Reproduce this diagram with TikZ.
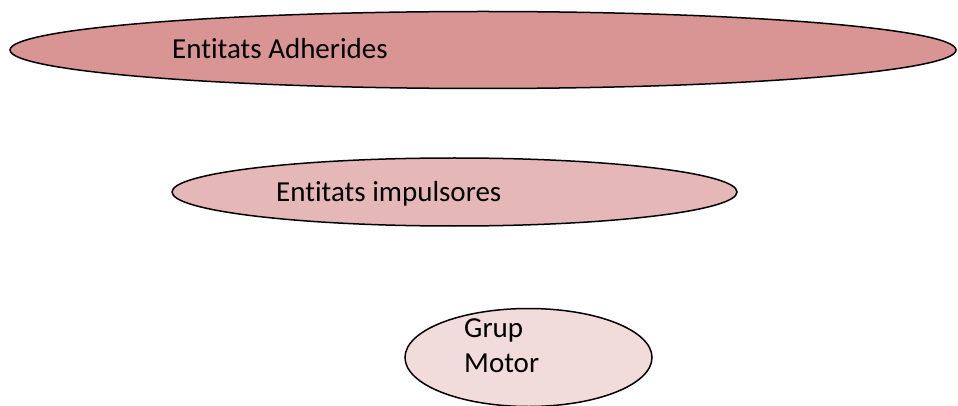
\documentclass[tikz,border=0pt]{standalone}
\usepackage{fontspec}
\setmainfont[Ligatures=NoCommon]{Carlito}
\usetikzlibrary{shapes,shapes.geometric,positioning}
\definecolor{rosa1}{HTML}{D99594}
\definecolor{rosa2}{HTML}{E5B8B7}
\definecolor{rosa3}{HTML}{F2DBDB}
\tikzset{
    oval/.style={ellipse, draw=black, line width=1.5pt, inner sep=0pt, outer sep=0pt},
    etiq/.style={anchor=base west, inner sep=0pt, text=black,
    font=\fontsize{29}{35}\selectfont, align=left}
}
\begin{document}
\begin{tikzpicture}[x=1pt,y=-1pt]
    \useasboundingbox (0,0) rectangle (958,406);
    \node (adh) [oval,fill=rosa1,minimum width=946pt,minimum height=77pt] at (483,50) {};
    \node (imp) [oval,fill=rosa2,minimum width=565pt,minimum height=68pt] at (454.5,192) {};
    \node (mot) [oval,fill=rosa3,minimum width=247pt,minimum height=98pt] at (528.5,357.5) {};
    \node (tadh) [etiq] at (172,59) {Entitats Adherides};
    \node (timp) [etiq] at (276,202) {Entitats impulsores};
    \node (tmot) [etiq,anchor=north west] at (464,318) {Grup\\Motor};
\end{tikzpicture}
\end{document}
